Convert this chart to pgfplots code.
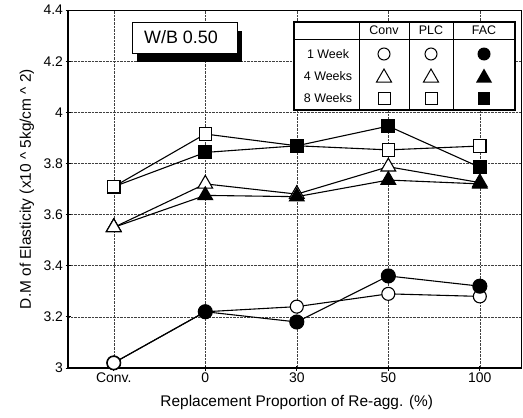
\documentclass[border=0pt]{standalone}
\usepackage{pgfplots}
\pgfplotsset{compat=1.18}
\usepackage{fontspec}
\setmainfont{Liberation Sans}
\pgfplotstableread{
x y
0 3.02
1 3.22
2 3.24
3 3.29
4 3.28
}\plcone
\pgfplotstableread{
x y
0 3.02
1 3.22
2 3.18
3 3.36
4 3.32
}\facone
\pgfplotstableread{
x y
0 3.55
1 3.72
2 3.68
3 3.787
4 3.725
}\plcfour
\pgfplotstableread{
x y
0 3.55
1 3.675
2 3.67
3 3.735
4 3.72
}\facfour
\pgfplotstableread{
x y
0 3.709
1 3.915
2 3.869
3 3.853
4 3.868
}\plceight
\pgfplotstableread{
x y
0 3.709
1 3.843
2 3.869
3 3.946
4 3.785
}\faceight
\pgfplotstableread{
x one four eight
0 3.02 3.55 3.709
}\convpts
\begin{document}
\begin{tikzpicture}[x=1bp,y=1bp]
\begin{axis}[
  at={(0,0)}, anchor=south west,
  scale only axis,
  width=453bp, height=358bp,
  xmin=-0.5, xmax=4.45,
  ymin=3, ymax=4.4,
  xtick={0,1,2,3,4},
  xticklabels={Conv.,0,30,50,100},
  ytick={3,3.2,3.4,3.6,3.8,4,4.2,4.4},
  /pgf/number format/assume math mode=true,
  tick label style={font=\fontsize{14}{15}\selectfont},
  xticklabel style={yshift=1bp},
  yticklabel style={xshift=1bp},
  label style={font=\fontsize{15.5}{16}\selectfont},
  xlabel={Replacement Proportion of Re-agg. (\%)},
  ylabel={D.M of Elasticity (x10 \^{} 5kg/cm \^{} 2)},
  xlabel style={at={(axis description cs:0.505,-0.095)}, anchor=center},
  ylabel style={at={(axis description cs:-0.0905,0.5)}, anchor=center},
  grid=major,
  major grid style={densely dotted, black!75, line width=0.5pt},
  axis line style={line width=0.6pt},
  tick style={black, line width=0.8pt},
  tick align=center,
  major tick length=5bp,
  xtick pos=bottom, ytick pos=left,
  clip=false,
  every axis plot/.append style={black, line width=1.1pt},
]
\draw[line width=1.8pt] (rel axis cs:0,1) -- (rel axis cs:0,0) -- (rel axis cs:1,0);
\addplot[mark=*, mark size=6.5bp, mark options={fill=white}] table {\plcone};
\addplot[mark=*, mark size=7bp, mark options={fill=black}] table {\facone};
\addplot[mark=triangle*, mark size=8.5bp, mark options={fill=white}] table {\plcfour};
\addplot[mark=triangle*, mark size=8.5bp, mark options={fill=black}] table {\facfour};
\addplot[mark=square*, mark size=6.2bp, mark options={fill=white}] table {\plceight};
\addplot[mark=square*, mark size=6.5bp, mark options={fill=black}] table {\faceight};
\addplot[only marks, mark=*, mark size=6.5bp, mark options={fill=white}] table[y=one] {\convpts};
\addplot[only marks, mark=triangle*, mark size=8.5bp, mark options={fill=white}] table[y=four] {\convpts};
\addplot[only marks, mark=square*, mark size=6.2bp, mark options={fill=white}] table[y=eight] {\convpts};
\end{axis}
% W/B label box with drop shadow
\fill[black] (69,306) rectangle (174,337);
\draw[fill=white, line width=0.9pt] (64,315) rectangle (169,346);
\node[font=\fontsize{18}{19}\selectfont, inner sep=0pt] at (113,330.5) {W/B 0.50};
% legend table
\draw[fill=white, line width=1.3pt] (226,258) rectangle (447,346);
\draw[line width=0.8pt] (226,329) -- (447,329);
\draw[line width=0.8pt] (291,258) -- (291,346);
\draw[line width=0.8pt] (341,258) -- (341,346);
\draw[line width=0.8pt] (385,258) -- (385,346);
\begin{scope}[every node/.style={font=\fontsize{12.5}{13}\selectfont, inner sep=0pt}]
\node at (316,337.5) {Conv};
\node at (363,337.5) {PLC};
\node at (416,337.5) {FAC};
\node at (260,314) {1 Week};
\node at (260,292) {4 Weeks};
\node at (260,270) {8 Weeks};
\end{scope}
\begin{scope}[line width=1pt]
% circles
\draw[fill=white] (316,314) circle (6);
\draw[fill=white] (363,314) circle (6);
\fill[black] (416,314) circle (6.5);
% triangles
\draw[fill=white] (316,299) -- (323.5,286) -- (308.5,286) -- cycle;
\draw[fill=white] (363,299) -- (370.5,286) -- (355.5,286) -- cycle;
\fill[black] (416,299.5) -- (424,285.5) -- (408,285.5) -- cycle;
% squares
\draw[fill=white] (310,264) rectangle (322,276);
\draw[fill=white] (357,264) rectangle (369,276);
\fill[black] (410,263.5) rectangle (422,276.5);
\end{scope}
\pgfresetboundingbox
\useasboundingbox (-68,-49) rectangle (455,368);
\end{tikzpicture}
\end{document}
